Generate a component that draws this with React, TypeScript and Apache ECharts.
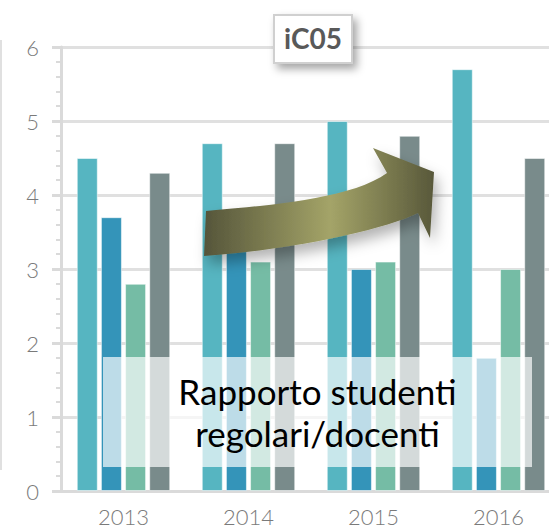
import React, { useEffect, useRef } from "react";
import * as echarts from "echarts";

const years = ["2013", "2014", "2015", "2016"];
const serieA = [4.5, 4.7, 5.0, 5.7];
const serieB = [3.7, 3.4, 3.0, 1.8];
const serieC = [2.8, 3.1, 3.1, 3.0];
const serieD = [4.3, 4.7, 4.8, 4.5];
const colors = ["#56b5c1", "#3494b9", "#75bca5", "#798b8b"];
const titleText = "iC05";
const noteLines = ["Rapporto studenti", "regolari/docenti"];

const arrowD =
  "M206 211 C260 206 350 200 387 173 L373 148 L434 172 L430 238 L418 213 C385 229 300 249 204 256 Z";

let registered = false;

export default function App() {
  const ref = useRef<HTMLDivElement>(null);
  useEffect(() => {
    if (!registered) {
      echarts.graphic.registerShape("arrowShape", echarts.graphic.extendPath(arrowD, {}));
      registered = true;
    }
    const chart = echarts.init(ref.current!, null, { renderer: "svg" });
    const axisColor = "#dadada";
    const labelStyle = { color: "#7a7a7a", fontSize: 22, fontFamily: "Lato", fontWeight: 300 };
    const series = [serieA, serieB, serieC, serieD].map((d, i) => ({
      type: "bar",
      data: d,
      barWidth: 21,
      barGap: "15%",
      itemStyle: { color: colors[i], borderColor: "rgba(255,255,255,0.5)", borderWidth: 1 },
    }));
    const noteStyle = {
      fill: "#000",
      fontSize: 35,
      fontFamily: "Lato",
      align: "center",
      verticalAlign: "middle",
    };
    chart.setOption({
      animation: false,
      backgroundColor: "#ffffff",
      grid: { left: 61, top: 47, width: 500, height: 444, outerBoundsMode: "none" },
      xAxis: {
        type: "category",
        data: years,
        axisLine: { lineStyle: { color: axisColor, width: 3 } },
        axisTick: { show: false },
        axisLabel: { ...labelStyle, margin: 14 },
      },
      yAxis: {
        type: "value",
        min: 0,
        max: 6,
        interval: 1,
        axisLine: { show: true, lineStyle: { color: axisColor, width: 3 } },
        axisTick: { show: true, length: 9, lineStyle: { color: axisColor, width: 3 } },
        minorTick: { show: true, splitNumber: 5, length: 5, lineStyle: { color: axisColor, width: 2 } },
        splitLine: { lineStyle: { color: "#e0e0e0", width: 3 } },
        axisLabel: { ...labelStyle, margin: 22 },
      },
      series,
      graphic: [
        {
          type: "line",
          shape: { x1: 1, y1: 40, x2: 1, y2: 470 },
          style: { stroke: "#e0e0e0", lineWidth: 2 },
          z: 1,
        },
        {
          type: "rect",
          shape: { x: 103, y: 357, width: 429, height: 110 },
          style: { fill: "rgba(255,255,255,0.68)" },
          z: 50,
        },
        {
          type: "text",
          x: 317.5,
          y: 391,
          style: { ...noteStyle, text: noteLines[0] },
          z: 51,
        },
        {
          type: "text",
          x: 317.5,
          y: 433,
          style: { ...noteStyle, text: noteLines[1] },
          z: 51,
        },
        {
          type: "arrowShape",
          x: 0,
          y: 0,
          style: {
            fill: new echarts.graphic.LinearGradient(0, 0, 1, 0, [
              { offset: 0, color: "#55553a" },
              { offset: 0.55, color: "#a4a468" },
              { offset: 1, color: "#58583a" },
            ]),
            shadowBlur: 14,
            shadowColor: "rgba(0,0,0,0.3)",
            shadowOffsetX: 4,
            shadowOffsetY: 8,
          },
          z: 60,
        },
        {
          type: "rect",
          shape: { x: 274, y: 15, width: 78, height: 48 },
          style: {
            fill: "#ffffff",
            stroke: "#d0d0d0",
            lineWidth: 2,
            shadowBlur: 8,
            shadowColor: "rgba(0,0,0,0.35)",
            shadowOffsetX: 4,
            shadowOffsetY: 5,
          },
          z: 70,
        },
        {
          type: "text",
          x: 313,
          y: 38,
          style: {
            text: titleText,
            fill: "#595959",
            fontSize: 28,
            fontFamily: "Lato",
            fontWeight: "bold",
            align: "center",
            verticalAlign: "middle",
          },
          z: 71,
        },
      ],
    });
    return () => chart.dispose();
  }, []);
  return (
    <div
      ref={ref}
      style={{ position: "fixed", left: 0, top: 0, width: 549, height: 530 }}
    />
  );
}
